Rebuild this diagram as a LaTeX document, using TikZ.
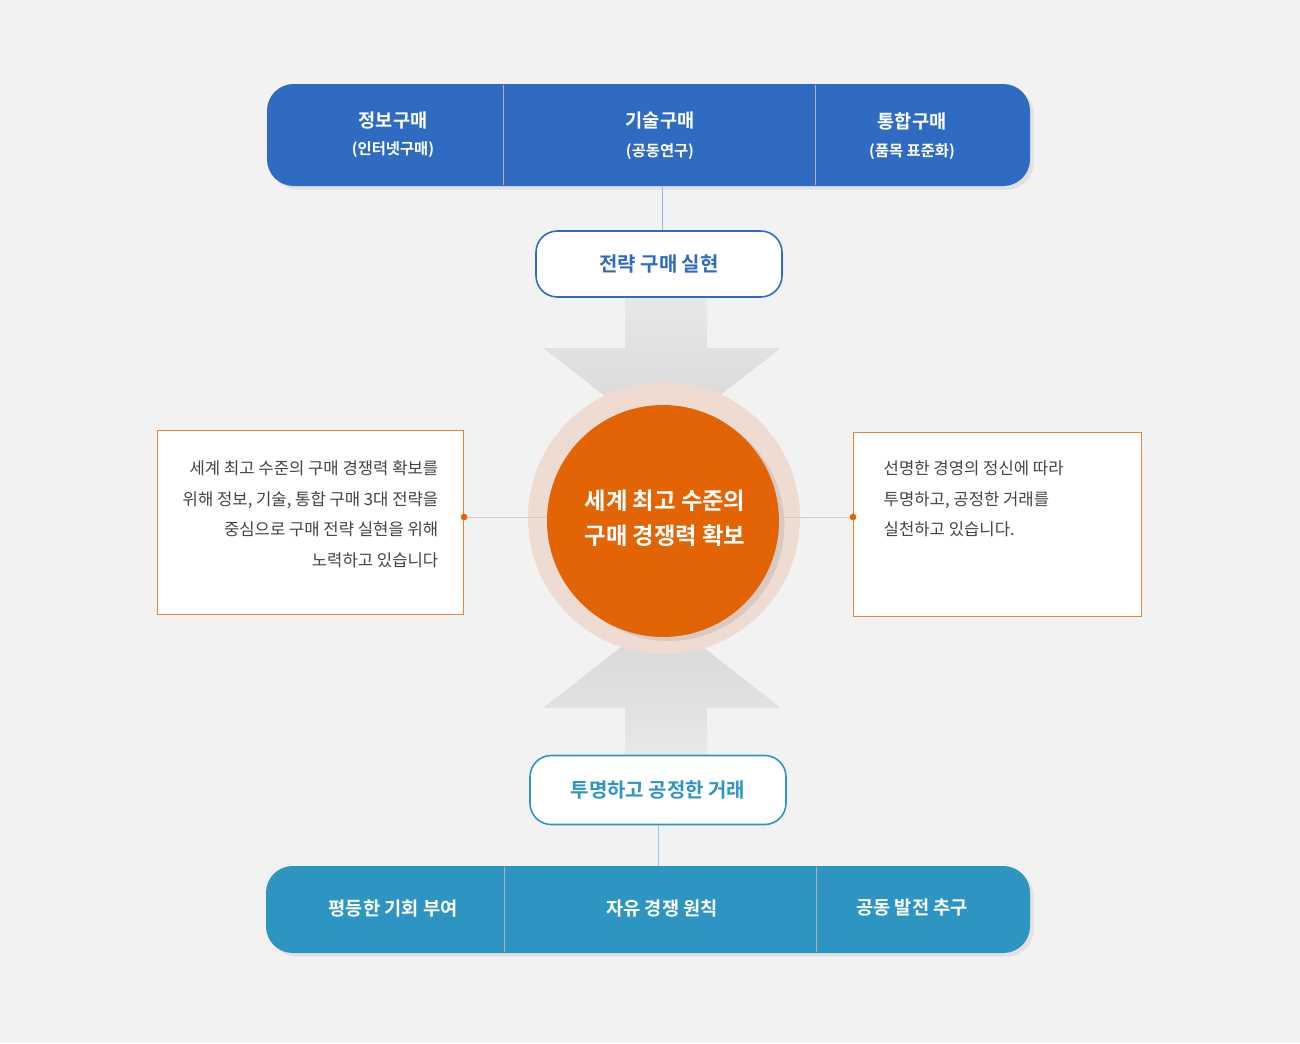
\documentclass[tikz,border=0pt]{standalone}
\usepackage{fontspec}
\setmainfont{Noto Sans CJK KR}
\newfontfamily\kb{Noto Sans CJK KR Bold}
\usetikzlibrary{shadows}
\definecolor{bg}{HTML}{F2F2F2}
\definecolor{topblue}{HTML}{2F6BC1}
\definecolor{botblue}{HTML}{2E95C2}
\definecolor{org}{HTML}{E36404}
\definecolor{halo}{HTML}{EEDCD3}
\definecolor{txt}{HTML}{444444}
\tikzset{
 bar/.style={rounded corners=20pt},
 divider/.style={draw=white!70!black,line width=0.4pt},
 bartxt/.style={text=white,font=\kb\fontsize{14}{16}\selectfont},
 barsub/.style={text=white,font=\kb\fontsize{11.5}{13}\selectfont},
 pill/.style={draw,fill=white,rounded corners=16pt,line width=1.2pt},
 desc/.style={draw=org!80,fill=white,line width=0.6pt},
 dtxt/.style={text=txt,font=\fontsize{12.5}{23}\selectfont},
 conn/.style={draw=gray!40,line width=0.6pt},
 dot/.style={circle,fill=org,inner sep=0pt,minimum size=5pt},
}
\begin{document}
\begin{tikzpicture}[x=0.75pt,y=-0.75pt]
\fill[bg] (0,0) rectangle (1300,1043);
\useasboundingbox (0,0) rectangle (1300,1043);
% arrows
\shade[top color=gray!18,bottom color=gray!32] (625,297) -- (707,297) -- (707,348) -- (781,348) -- (662,440) -- (543,348) -- (625,348) -- cycle;
\shade[top color=gray!32,bottom color=gray!18] (625,756) -- (707,756) -- (707,708) -- (781,708) -- (662,615) -- (543,708) -- (625,708) -- cycle;
% top bar
\node[bar,fill=topblue,minimum width=763*0.75pt,minimum height=102*0.75pt,drop shadow={opacity=0.15}] (top) at (648.5,135) {};
\draw[divider] (503,85) -- (503,185);
\draw[divider] (815,85) -- (815,185);
\node[bartxt] (t1) at (393,121) {정보구매};
\node[barsub] (s1) at (393,150) {(인터넷구매)};
\node[bartxt] (t2) at (660,121) {기술구매};
\node[barsub] (s2) at (660,152) {(공동연구)};
\node[bartxt] (t3) at (912,121) {통합구매};
\node[barsub] (s3) at (912,152) {(품목 표준화)};
% strategy pill
\node[pill,draw=topblue,minimum width=246*0.75pt,minimum height=66*0.75pt,text=topblue,font=\kb\fontsize{15}{17}\selectfont] (p1) at (659,264) {전략 구매 실현};
\coordinate (c1) at (662,186);
\draw[topblue!50,line width=0.5pt] (c1) -- (p1.north -| c1);
% bottom pill
\node[pill,draw=botblue,minimum width=256*0.75pt,minimum height=69*0.75pt,text=botblue,font=\kb\fontsize{15}{17}\selectfont] (p2) at (658,790) {투명하고 공정한 거래};
% bottom bar
\node[bar,fill=botblue,minimum width=764*0.75pt,minimum height=87*0.75pt,drop shadow={opacity=0.15}] (bot) at (648,909.5) {};
\draw[botblue!50,line width=0.5pt] (p2.south) -- (bot.north -| p2.south);
\draw[divider] (504,867) -- (504,952);
\draw[divider] (816,867) -- (816,952);
\node[bartxt] (b1) at (393,908) {평등한 기회 부여};
\node[bartxt] (b2) at (662,908) {자유 경쟁 원칙};
\node[bartxt] (b3) at (912,908) {공동 발전 추구};
% circle
\node[circle,fill=halo,minimum size=272*0.75pt] (halo) at (664,518) {};
\node[circle,fill=org,minimum size=232*0.75pt,drop shadow={shadow xshift=4pt,shadow yshift=-3pt,opacity=0.2}] (core) at (663,521) {};
\node[text=white,font=\kb\fontsize{17.5}{26}\selectfont,align=center] (ct) at (665,518) {세계 최고 수준의\\구매 경쟁력 확보};
% side boxes
\node[desc,minimum width=306*0.75pt,minimum height=184*0.75pt] (lb) at (310,522) {};
\node[dtxt,align=right,anchor=north east] (lt) at (443,456) {세계 최고 수준의 구매 경쟁력 확보를\\위해 정보, 기술, 통합 구매 3대 전략을\\중심으로 구매 전략 실현을 위해\\노력하고 있습니다};
\node[desc,minimum width=288*0.75pt,minimum height=184*0.75pt] (rb) at (997,524) {};
\node[dtxt,align=left,anchor=north west] (rt) at (879,456) {선명한 경영의 정신에 따라\\투명하고, 공정한 거래를\\실천하고 있습니다.};
\coordinate (ld) at (464,517);
\coordinate (rd) at (853,517);
\draw[conn] (ld) -- (core.west |- ld);
\draw[conn] (core.east |- rd) -- (rd);
\node[dot] (ldot) at (ld) {};
\node[dot] (rdot) at (rd) {};
\end{tikzpicture}
\end{document}
